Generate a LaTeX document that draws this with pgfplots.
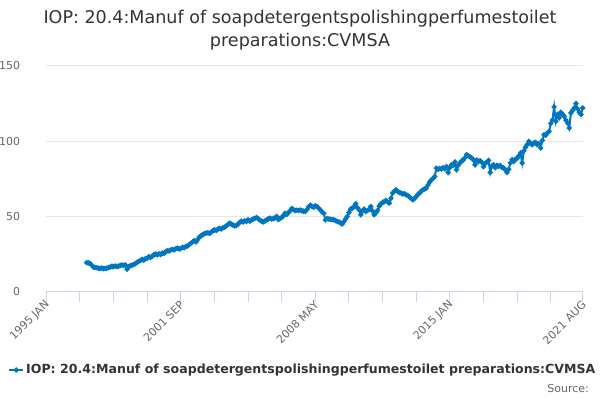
\documentclass[border=0pt]{standalone}
\usepackage{fontspec}
\setmainfont{DejaVu Sans}
\usepackage{pgfplots}
\pgfplotsset{compat=1.18}
\usepackage{pgfplotstable}
\definecolor{onsblue}{RGB}{0,118,192}
\definecolor{axisblue}{RGB}{204,214,235}
\definecolor{gridgray}{RGB}{230,230,230}
\definecolor{labgray}{RGB}{102,102,102}
\definecolor{titlegray}{RGB}{51,51,51}
\pgfplotstableread{
m v
24 19.2
25 19.0
26 18.8
27 17.5
28 16.2
29 16.0
30 15.8
31 15.5
32 15.3
33 15.6
34 15.2
35 15.4
36 15.5
37 15.9
38 16.3
39 16.8
40 16.5
41 17.0
42 16.6
43 16.9
44 17.3
45 17.6
46 17.4
47 17.7
48 14.8
49 16.5
50 17.2
51 17.5
52 18.0
53 18.6
54 19.4
55 20.1
56 20.6
57 21.3
58 20.8
59 21.9
60 22.1
61 23.2
62 22.6
63 23.5
64 24.3
65 25.0
66 24.4
67 25.1
68 24.6
69 25.6
70 25.3
71 26.5
72 27.2
73 27.0
74 27.6
75 28.0
76 27.7
77 28.4
78 28.9
79 28.3
80 28.6
81 29.4
82 29.1
83 30.0
84 30.3
85 31.2
86 32.0
87 33.0
88 33.9
89 33.0
90 34.5
91 36.2
92 37.0
93 37.8
94 38.5
95 38.8
96 39.1
97 38.6
98 39.5
99 40.3
100 41.0
101 40.6
102 41.5
103 42.0
104 41.6
105 42.3
106 42.8
107 43.5
108 44.6
109 45.4
110 44.8
111 44.2
112 43.6
113 43.9
114 44.8
115 46.0
116 46.8
117 46.2
118 47.0
119 46.6
120 47.7
121 46.8
122 47.5
123 48.2
124 48.6
125 49.2
126 48.4
127 47.5
128 46.8
129 46.3
130 46.9
131 47.6
132 48.3
133 48.8
134 48.1
135 48.5
136 48.9
137 49.9
138 47.8
139 48.6
140 49.2
141 50.4
142 52.0
143 51.3
144 52.5
145 53.6
146 55.2
147 54.5
148 53.8
149 54.1
150 53.9
151 54.2
152 53.7
153 53.4
154 53.2
155 54.5
156 56.3
157 57.4
158 56.6
159 56.0
160 57.0
161 56.5
162 55.4
163 54.3
164 52.8
165 52.0
166 47.7
167 48.5
168 48.2
169 48.0
170 47.8
171 47.7
172 47.2
173 46.6
174 46.3
175 45.6
176 45.0
177 46.5
178 48.3
179 49.9
180 52.6
181 54.8
182 55.5
183 56.3
184 58.3
185 55.8
186 54.3
187 51.0
188 53.6
189 54.8
190 53.2
191 53.9
192 54.6
193 56.5
194 53.5
195 51.0
196 52.4
197 53.9
198 56.8
199 58.3
200 59.2
201 59.8
202 60.5
203 59.6
204 58.8
205 62.0
206 65.5
207 66.8
208 67.7
209 66.5
210 65.8
211 65.5
212 64.9
213 65.1
214 64.3
215 63.9
216 62.8
217 61.9
218 61.0
219 62.0
220 63.2
221 64.6
222 65.5
223 66.8
224 67.7
225 68.2
226 68.8
227 70.8
228 72.9
229 74.3
230 75.2
231 76.5
232 82.0
233 81.2
234 81.8
235 81.5
236 82.4
237 81.6
238 83.2
239 79.2
240 82.5
241 84.3
242 83.8
243 86.1
244 81.0
245 84.0
246 85.5
247 86.8
248 87.5
249 89.0
250 91.0
251 90.2
252 89.5
253 88.8
254 87.6
255 84.3
256 87.5
257 86.4
258 87.0
259 85.9
260 83.0
261 85.2
262 86.0
263 87.2
264 79.2
265 83.5
266 84.3
267 82.4
268 84.0
269 83.2
270 83.8
271 82.5
272 82.2
273 81.0
274 79.2
275 81.3
276 85.6
277 87.7
278 86.5
279 88.0
280 88.5
281 90.2
282 92.1
283 85.5
284 93.5
285 96.0
286 97.7
287 99.9
288 98.5
289 97.7
290 98.8
291 99.2
292 97.6
293 98.4
294 95.5
295 100.5
296 104.3
297 104.0
298 105.5
299 106.5
300 111.7
301 114.0
302 122.8
303 113.2
304 117.7
305 115.5
306 119.2
307 118.0
308 116.5
309 114.0
310 112.0
311 108.8
312 118.8
313 120.5
314 122.0
315 125.0
316 121.5
317 119.2
318 117.7
319 122.1
}\datatable
\begin{document}
\begin{tikzpicture}
\useasboundingbox (0,0) rectangle (600bp,400bp);
\begin{axis}[
  scale only axis,
  width=536.4bp, height=225.5bp,
  at={(46.3bp,108.5bp)}, anchor=south west,
  xmin=0, xmax=319, ymin=0, ymax=150,
  axis x line*=bottom,
  axis y line*=left,
  y axis line style={draw=none},
  x axis line style={axisblue, line width=1bp, -},
  xtick={0,80,160,240,319},
  xticklabels={1995 JAN,2001 SEP,2008 MAY,2015 JAN,2021 AUG},
  minor xtick={20,40,60,100,120,140,180,200,220,260,280,300},
  tick align=outside,
  major tick length=10bp, minor tick length=10bp,
  x tick style={axisblue, line width=1bp},
  minor x tick style={axisblue, line width=1bp},
  ytick={0,50,100,150},
  y tick style={draw=none},
  ymajorgrids,
  major y grid style={gridgray, line width=1bp},
  /pgf/number format/assume math mode=true,
  ticklabel style={font=\fontsize{11}{13}\selectfont, text=labgray},
  yticklabel style={anchor=east, inner sep=0pt, xshift=-16bp},
  xticklabel style={rotate=45, anchor=east, inner sep=0pt, yshift=-2bp},
  clip=false,
  legend style={draw=none, fill=none, at={(-0.0714,-0.348)}, anchor=west,
    font=\fontsize{12.6}{14}\selectfont\bfseries, text=titlegray, inner sep=0pt,
    legend cell align=left},
  legend image code/.code={\draw[mark repeat=2,mark phase=2,#1] plot coordinates {(0bp,0bp)(7bp,0bp)(14bp,0bp)};},
]
\addplot[onsblue, line width=2bp, mark=*, mark size=1.5bp, mark options={solid, fill=onsblue, draw=onsblue}] table[x=m,y=v] {\datatable};
\addlegendentry{IOP: 20.4:Manuf of soapdetergentspolishingperfumestoilet preparations:CVMSA}
\end{axis}
\node[anchor=base, text=titlegray, font=\fontsize{17.6}{20}\selectfont] at (300bp,376bp) {IOP: 20.4:Manuf of soapdetergentspolishingperfumestoilet};
\node[anchor=base, text=titlegray, font=\fontsize{17.6}{20}\selectfont] at (300bp,353bp) {preparations:CVMSA};
\node[anchor=base east, text=labgray, font=\fontsize{11}{13}\selectfont, inner sep=0pt] at (589bp,8bp) {Source:};
\end{tikzpicture}
\end{document}
